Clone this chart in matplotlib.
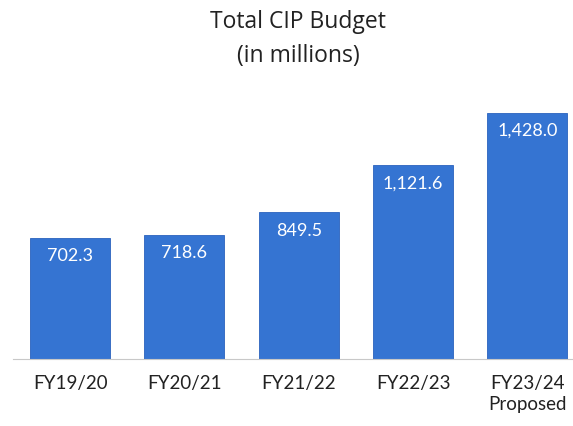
import matplotlib.pyplot as plt

# Data
years = ['FY19/20', 'FY20/21', 'FY21/22', 'FY22/23', 'FY23/24\nProposed']
budget = [702.3, 718.6, 849.5, 1121.6, 1428.0]
labels = ['702.3', '718.6', '849.5', '1,121.6', '1,428.0']

plt.rcParams['font.family'] = ['Lato', 'DejaVu Sans']

fig = plt.figure(figsize=(5.73, 4.27), dpi=100)
ax = fig.add_axes([13 / 573, 67 / 427, 560 / 573, 270 / 427])

x = range(len(years))
bars = ax.bar(x, budget, width=0.7, color='#3574d2', edgecolor='#2a62bd',
              linewidth=0.6, zorder=2)

for b, lab in zip(bars, labels):
    ax.text(b.get_x() + b.get_width() / 2, b.get_height() - 100, lab,
            ha='center', va='center', color='white', fontsize=13, zorder=3)

ax.set_xlim(-0.5, 4.4)
ax.set_ylim(0, 1565)
ax.set_xticks(list(x))
ax.set_xticklabels(years, fontsize=13.5, color='#222222', linespacing=1.3)
ax.tick_params(axis='x', length=0, pad=11)
ax.set_yticks([])
for side in ['top', 'right', 'left']:
    ax.spines[side].set_visible(False)
ax.spines['bottom'].set_color('#c8c8c8')
ax.spines['bottom'].set_linewidth(0.8)

# two-line title, placed separately to get the wide line gap
title_font = ['Open Sans', 'DejaVu Sans']
fig.text(0.52, 1 - 28 / 427, 'Total CIP Budget', ha='center', va='baseline',
         fontsize=16.5, color='#222222', family=title_font)
fig.text(0.52, 1 - 62 / 427, '(in millions)', ha='center', va='baseline',
         fontsize=16.5, color='#222222', family=title_font)

fig.savefig('out.png', dpi=100)
